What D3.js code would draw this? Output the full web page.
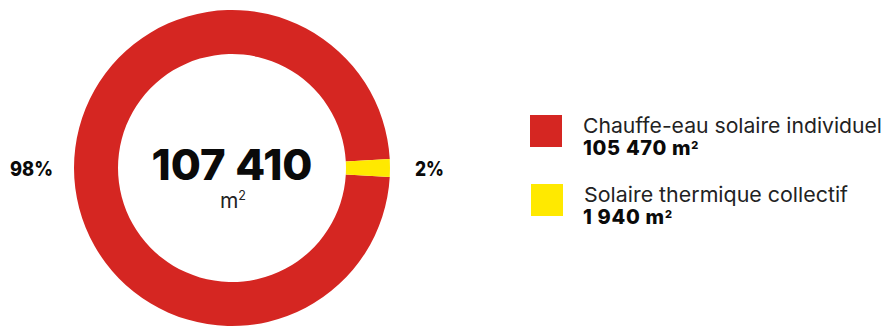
<!DOCTYPE html>
<html><head><meta charset="utf-8">
<script src="https://cdn.jsdelivr.net/npm/d3@7"></script>
<style>body{margin:0;background:#fff}svg{display:block}</style>
</head><body>
<svg id="c" width="885" height="327"></svg>
<script>
const categories = ["Chauffe-eau solaire individuel", "Solaire thermique collectif"];
const values = [105470, 1940];
const valueLabels = ["105 470 m²", "1 940 m²"];
const percentLabels = ["98%", "2%"];
const colors = ["#d52622", "#ffe900"];
const totalLabel = "107 410";
const unitLabel = "m²";

const svg = d3.select("#c");
const font = "Inter, 'Open Sans', sans-serif";
const cx = 232, cy = 168, rOut = 158, rIn = 114;
const total = d3.sum(values);
const fy = values[1] / total;
const start = Math.PI / 2 + fy * Math.PI;

const pie = d3.pie().sort(null).value(d => d).startAngle(start).endAngle(start + 2 * Math.PI);
const arc = d3.arc().innerRadius(rIn).outerRadius(rOut);
const g = svg.append("g").attr("transform", `translate(${cx},${cy})`);
g.selectAll("path").data(pie(values)).join("path")
  .attr("d", arc).attr("fill", (d, i) => colors[i]);

// write text with a raised superscript "2" in place of "²"
function supText(sel, str, size, k, raise) {
  const parts = str.split("²");
  sel.append("tspan").text(parts[0]);
  if (parts.length > 1) {
    sel.append("tspan").attr("font-size", size * k).attr("dy", -size * raise).text("2");
  }
}

// center text
g.append("text").attr("x", 0).attr("y", 12).attr("text-anchor", "middle")
  .attr("font-family", font).attr("font-weight", 800).attr("font-size", 43)
  .attr("textLength", 161).attr("lengthAdjust", "spacingAndGlyphs")
  .attr("fill", "#0a0a0a").text(totalLabel);
const unit = g.append("text").attr("x", 1).attr("y", 40).attr("text-anchor", "middle")
  .attr("font-family", font).attr("font-weight", 400).attr("font-size", 21)
  .attr("fill", "#222");
supText(unit, unitLabel, 21, 0.6, 0.36);

// percent labels
svg.append("text").attr("x", 10).attr("y", 176).attr("font-family", font)
  .attr("font-weight", 800).attr("font-size", 20).attr("textLength", 43)
  .attr("lengthAdjust", "spacingAndGlyphs").attr("fill", "#0a0a0a").text(percentLabels[0]);
svg.append("text").attr("x", 415).attr("y", 176).attr("font-family", font)
  .attr("font-weight", 800).attr("font-size", 20).attr("textLength", 29)
  .attr("lengthAdjust", "spacingAndGlyphs").attr("fill", "#0a0a0a").text(percentLabels[1]);

// legend
const legY = [115, 184];
const nameW = [299, 264];
const leg = svg.append("g");
categories.forEach((c, i) => {
  leg.append("rect").attr("x", 530 + i).attr("y", legY[i]).attr("width", 32).attr("height", 32)
    .attr("fill", colors[i]);
  leg.append("text").attr("x", 583 + i).attr("y", legY[i] + 17.5).attr("font-family", font)
    .attr("font-size", 20.5).attr("fill", "#222").attr("textLength", nameW[i])
    .attr("lengthAdjust", "spacingAndGlyphs").text(c);
  const vt = leg.append("text").attr("x", 583).attr("y", legY[i] + 40).attr("font-family", font)
    .attr("font-weight", 800).attr("font-size", 20).attr("letter-spacing", 0.7)
    .attr("fill", "#0a0a0a");
  supText(vt, valueLabels[i], 20, 0.55, 0.32);
});
</script>
</body></html>
